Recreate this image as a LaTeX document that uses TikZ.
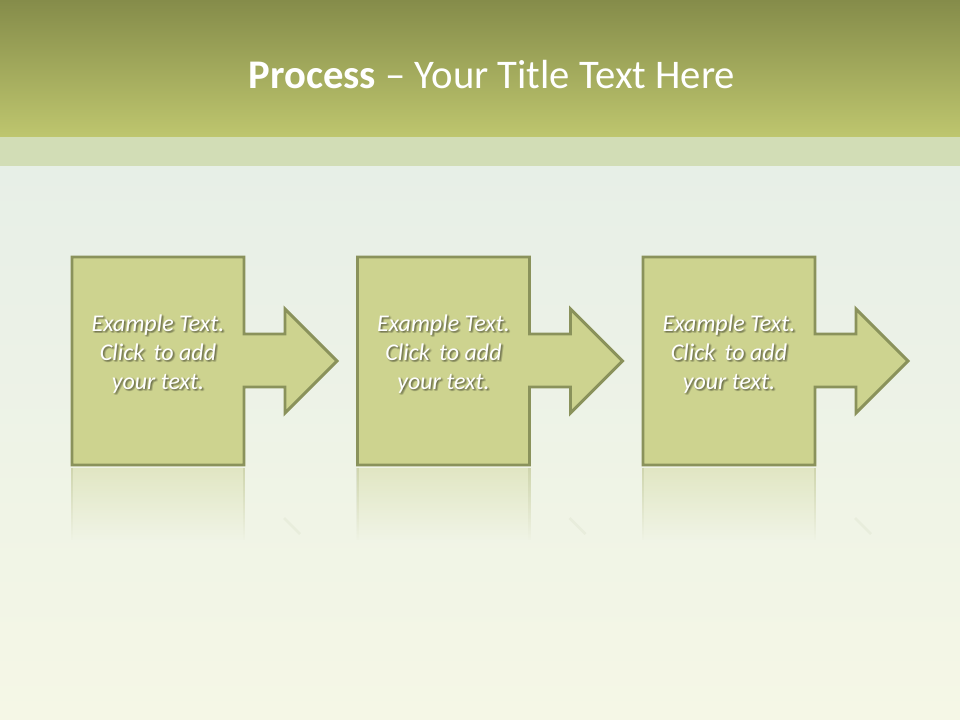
\documentclass[tikz,border=0pt]{standalone}
\usepackage{fontspec}
\setmainfont{Carlito}
\usetikzlibrary{fadings}
\definecolor{bandtop}{HTML}{858C4A}
\definecolor{bandbot}{HTML}{BEC66E}
\definecolor{strip}{HTML}{D2DDB6}
\definecolor{bgtop}{HTML}{E7EFE7}
\definecolor{bgbot}{HTML}{F5F7E6}
\definecolor{boxfill}{HTML}{CDD38F}
\definecolor{boxline}{HTML}{8A925B}
\begin{document}
\begin{tikzpicture}[x=0.75pt,y=-0.75pt,
  stepshape/.style={fill=boxfill,draw=boxline,line width=2.2pt,line join=miter},
  reflect/.style={fill=boxfill,path fading=south,fill opacity=0.4},
  bodytext/.style={font=\itshape\fontsize{18}{21.75}\selectfont,align=center,text=white},
  shadowtext/.style={font=\itshape\fontsize{18}{21.75}\selectfont,align=center,text=black,opacity=0.09}]
\useasboundingbox (0,0) rectangle (960,720);
% background
\shade[top color=bgtop,bottom color=bgbot] (0,166) rectangle (960,720);
\shade[top color=bandtop,bottom color=bandbot] (0,0) rectangle (960,137);
\fill[strip] (0,137) rectangle (960,166);
\node[font=\fontsize{30.5}{36}\selectfont,text=white] (title) at (492,75) {\textbf{Process} – Your Title Text Here};
% steps
\foreach \i/\dx in {1/0,2/285.5,3/571}{
  \begin{scope}[xshift=\dx*0.75pt]
  \fill[reflect] (71,468) rectangle (245,540);
  \draw[boxline,opacity=0.2,line width=2pt,path fading=south] (72,468) -- (72,540) (244,468) -- (244,540);
  \draw[boxline,opacity=0.07,line width=2pt] (284,518) -- (300,534);
  \draw[stepshape] (72,257) -- (244,257) -- (244,334) -- (285,334) -- (285,309)
     -- (337,361) -- (285,413) -- (285,387) -- (244,387) -- (244,465) -- (72,465) -- cycle;
  \foreach \ox/\oy in {0.5/1,2.5/1,1.5/2.5,1.5/0,0.5/2,2.5/2,1.5/1.5}{
    \node[shadowtext] at (158+\ox,354+\oy) {Example Text.\\Click\, to add\\your text.};
  }
  \node[bodytext] (t\i) at (158,354) {Example Text.\\Click\, to add\\your text.};
  \end{scope}
}
\end{tikzpicture}
\end{document}
